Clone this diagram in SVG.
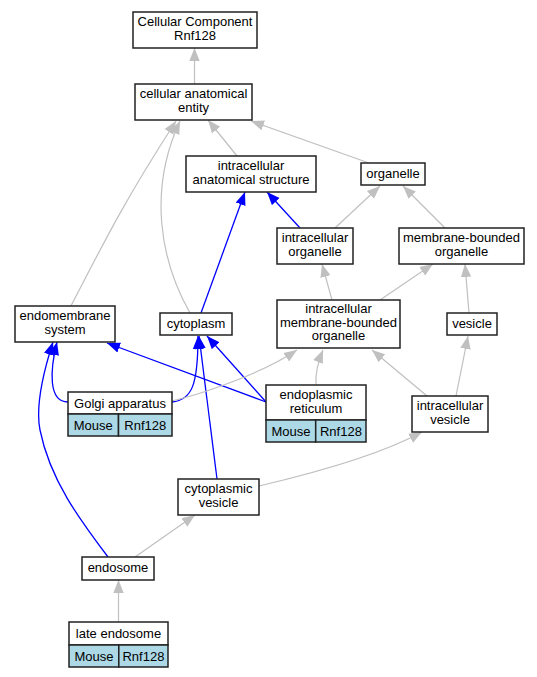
<svg xmlns="http://www.w3.org/2000/svg" width="537" height="677" viewBox="0 0 537 677">
<style>
.n{fill:#fff;stroke:#222;stroke-width:1.5}
.c{fill:#add8e6;stroke:#222;stroke-width:1.5}
text{font-family:"Liberation Sans",Arial,sans-serif;font-size:13px;fill:#000;text-anchor:middle}
.g{fill:none;stroke:#c0c0c0;stroke-width:1.2}
.b{fill:none;stroke:#0000ff;stroke-width:1.3}
</style>
<defs>
<marker id="ag" markerUnits="userSpaceOnUse" markerWidth="14" markerHeight="12" refX="13" refY="6" orient="auto"><path d="M0,0.8 L13,6 L0,11.2 z" fill="#c0c0c0"/></marker>
<marker id="ab" markerUnits="userSpaceOnUse" markerWidth="14" markerHeight="12" refX="13" refY="6" orient="auto"><path d="M0,0.8 L13,6 L0,11.2 z" fill="#0000ff"/></marker>
</defs>
<rect width="537" height="677" fill="#fff"/>
<g id="edges">
<path class="g" marker-end="url(#ag)" d="M194.5,84 L194.5,48"/>
<path class="g" marker-end="url(#ag)" d="M237,156 L208,120"/>
<path class="g" marker-end="url(#ag)" d="M369,163 L251,121"/>
<path class="g" marker-end="url(#ag)" d="M71,306 C105,240 125,200 176,121"/>
<path class="g" marker-end="url(#ag)" d="M190,313 C160,260 148,190 180,121"/>
<path class="b" marker-end="url(#ab)" d="M201,313 L245,192"/>
<path class="b" marker-end="url(#ab)" d="M300,228 L267,192"/>
<path class="g" marker-end="url(#ag)" d="M335,228 L380,186"/>
<path class="g" marker-end="url(#ag)" d="M445,228 L403,186"/>
<path class="g" marker-end="url(#ag)" d="M332,300 L322,264"/>
<path class="g" marker-end="url(#ag)" d="M380,300 L433,264"/>
<path class="g" marker-end="url(#ag)" d="M469,313 L465,264"/>
<path class="b" marker-end="url(#ab)" d="M68,402 C48,402 50,370 57,342"/>
<path class="b" marker-end="url(#ab)" d="M108,557 C80,520 50,480 40,430 C35,405 44,370 53,342"/>
<path class="b" marker-end="url(#ab)" d="M266,402 L107,343"/>
<path class="b" marker-end="url(#ab)" d="M172,402 C192,400 198,385 198,336"/>
<path class="b" marker-end="url(#ab)" d="M217,479 L199,336"/>
<path class="b" marker-end="url(#ab)" d="M266,402 L207,336"/>
<path class="g" marker-end="url(#ag)" d="M171,401 C195,396 260,375 297,350"/>
<path class="g" marker-end="url(#ag)" d="M316,385 C315,372 318,362 323,350"/>
<path class="g" marker-end="url(#ag)" d="M427,396 L372,350"/>
<path class="g" marker-end="url(#ag)" d="M456,396 L468,336"/>
<path class="g" marker-end="url(#ag)" d="M259,486 C310,474 380,455 422,432"/>
<path class="g" marker-end="url(#ag)" d="M135,557 L195,515"/>
<path class="g" marker-end="url(#ag)" d="M118.5,622 L118.5,580"/>
</g>
<g id="cc"><rect class="n" x="133" y="12" width="124" height="36"/><text x="195" y="26">Cellular Component</text><text x="195" y="39.5">Rnf128</text></g>
<g id="cae"><rect class="n" x="135" y="84" width="117" height="36"/><text x="193.5" y="98">cellular anatomical</text><text x="193.5" y="111.5">entity</text></g>
<g id="ias"><rect class="n" x="186" y="156" width="130" height="36"/><text x="251" y="170">intracellular</text><text x="251" y="183.5">anatomical structure</text></g>
<g id="organelle"><rect class="n" x="361" y="163" width="64" height="22"/><text x="393" y="177.5">organelle</text></g>
<g id="io"><rect class="n" x="277" y="228" width="76" height="36"/><text x="315" y="242">intracellular</text><text x="315" y="255.5">organelle</text></g>
<g id="mbo"><rect class="n" x="399" y="228" width="125" height="36"/><text x="461.5" y="242">membrane-bounded</text><text x="461.5" y="255.5">organelle</text></g>
<g id="ems"><rect class="n" x="15" y="306" width="100" height="36"/><text x="65" y="320">endomembrane</text><text x="65" y="333.5">system</text></g>
<g id="cytoplasm"><rect class="n" x="160" y="313" width="72" height="22"/><text x="196" y="327.5">cytoplasm</text></g>
<g id="imbo"><rect class="n" x="277" y="300" width="123" height="48"/><text x="338.5" y="313">intracellular</text><text x="338.5" y="326.5">membrane-bounded</text><text x="338.5" y="340">organelle</text></g>
<g id="vesicle"><rect class="n" x="447" y="313" width="50" height="22"/><text x="472" y="327.5">vesicle</text></g>
<g id="golgi"><rect class="n" x="68" y="392" width="104" height="22"/><rect class="c" x="68" y="414" width="50.5" height="22"/><rect class="c" x="118.5" y="414" width="53.5" height="22"/><text x="120" y="407.5">Golgi apparatus</text><text x="93.3" y="429.5">Mouse</text><text x="145.3" y="429.5">Rnf128</text></g>
<g id="er"><rect class="n" x="266" y="385" width="100" height="35"/><rect class="c" x="266" y="420" width="49.7" height="22"/><rect class="c" x="315.7" y="420" width="50.3" height="22"/><text x="316" y="399">endoplasmic</text><text x="316" y="412.5">reticulum</text><text x="290.9" y="435.5">Mouse</text><text x="340.9" y="435.5">Rnf128</text></g>
<g id="iv"><rect class="n" x="412" y="396" width="76" height="36"/><text x="450" y="410">intracellular</text><text x="450" y="423.5">vesicle</text></g>
<g id="cv"><rect class="n" x="178" y="479" width="81" height="36"/><text x="218.5" y="493">cytoplasmic</text><text x="218.5" y="506.5">vesicle</text></g>
<g id="endosome"><rect class="n" x="82" y="557" width="72" height="23"/><text x="118" y="572">endosome</text></g>
<g id="le"><rect class="n" x="69" y="622" width="99" height="23"/><rect class="c" x="69" y="645" width="49.8" height="22"/><rect class="c" x="118.8" y="645" width="49.2" height="22"/><text x="118.5" y="637.5">late endosome</text><text x="93.9" y="660.5">Mouse</text><text x="143.4" y="660.5">Rnf128</text></g>
</svg>
